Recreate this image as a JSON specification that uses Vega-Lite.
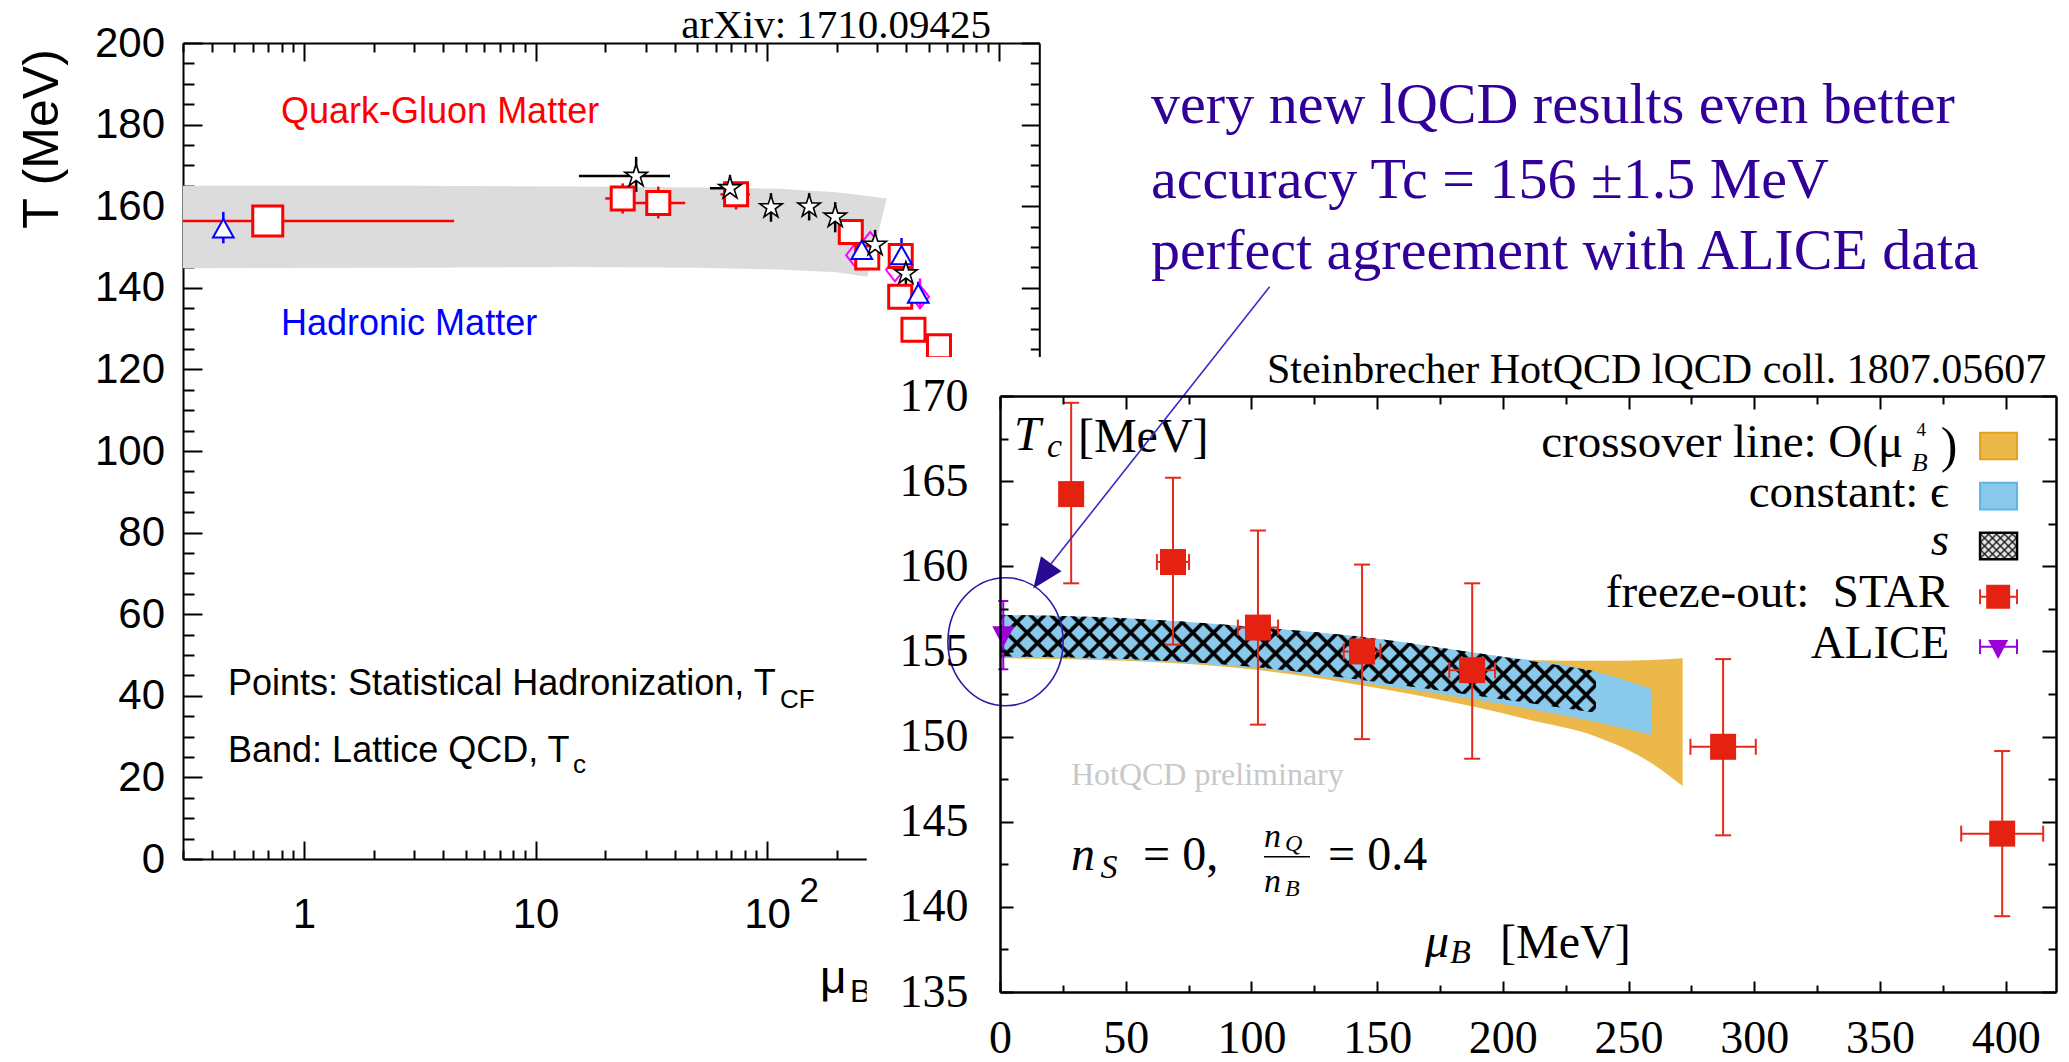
{
"$schema": "https://vega.github.io/schema/vega-lite/v6.json",
"width": 2069, "height": 1062,
"autosize": {"type": "none"},
"padding": 0,
"background": "#ffffff",
"config": {"view": {"stroke": null}, "axis": {"grid": false, "labelColor": "#000000", "tickColor": "#000000", "domainColor": "#000000"}},
"datasets": {
"left_band": [
{"mu":0.3,"lo":144.8,"hi":165.0},{"mu":3,"lo":144.9,"hi":165.0},{"mu":15,"lo":145.1,"hi":164.8},{"mu":50,"lo":144.9,"hi":164.6},{"mu":113,"lo":144.5,"hi":164.3},{"mu":200,"lo":143.8,"hi":163.4},{"mu":271,"lo":142.7,"hi":162.5},{"mu":329,"lo":161.9,"hi":161.9}
],
"left_pts": [
{"s":"sq","mu":0.697,"T":156.4,"mulo":0.3,"muhi":4.45},
{"s":"sq","mu":23.8,"T":161.9,"mulo":20.0,"muhi":26.9,"Tlo":158.2,"Thi":165.6},
{"s":"sq","mu":33.9,"T":160.8,"mulo":24.8,"muhi":44.3,"Tlo":157.0,"Thi":164.8},
{"s":"sq","mu":73.5,"T":162.9,"mulo":62.9,"muhi":84.3,"Tlo":159.2,"Thi":166.0},
{"s":"sq","mu":230,"T":153.7,"Tlo":151.5,"Thi":155.6},
{"s":"sq","mu":271,"T":147.4,"Tlo":145.6,"Thi":149.4},
{"s":"sq","mu":378,"T":147.8},
{"s":"sq","mu":376,"T":137.8,"Tlo":135.3,"Thi":140.0},
{"s":"sq","mu":429,"T":129.7},
{"s":"sq","mu":553,"T":125.7},
{"s":"st","mu":27.2,"T":167.4,"mulo":15.4,"muhi":38.1,"Tlo":163.5,"Thi":172.1},
{"s":"st","mu":69.2,"T":164.4,"mulo":56.7,"muhi":81.2,"Tlo":160.8,"Thi":167.6},
{"s":"st","mu":104,"T":159.7,"Tlo":156.2,"Thi":163.2},
{"s":"st","mu":152,"T":159.9,"Tlo":156.5,"Thi":163.2},
{"s":"st","mu":197,"T":157.4,"Tlo":153.6,"Thi":161.0},
{"s":"st","mu":293,"T":150.5,"Tlo":147.2,"Thi":154.2},
{"s":"st","mu":398,"T":143.5,"Tlo":140.5,"Thi":147.0},
{"s":"tr","mu":0.448,"T":154.6,"Tlo":150.9,"Thi":158.6},
{"s":"tr","mu":256.6,"T":149.3,"Tlo":146.8,"Thi":154.2},
{"s":"tr","mu":381,"T":148.0,"Tlo":145.2,"Thi":152.2},
{"s":"tr","mu":450,"T":138.6,"Tlo":136.2,"Thi":141.5},
{"s":"di","mu":240,"T":148.0},
{"s":"di","mu":279,"T":150.9},
{"s":"di","mu":357,"T":144.4},
{"s":"di","mu":458,"T":137.8,"Tlo":134.9,"Thi":142.3}
],
"orange": [
{"mu":0,"lo":154.6,"hi":157.1},{"mu":50,"lo":154.45,"hi":156.9},{"mu":100,"lo":153.95,"hi":156.4},{"mu":150,"lo":152.85,"hi":155.7},{"mu":190,"lo":151.7,"hi":154.9},{"mu":210,"lo":151.0,"hi":154.5},{"mu":237,"lo":150.0,"hi":154.45},{"mu":259,"lo":148.45,"hi":154.5},{"mu":271.5,"lo":147.1,"hi":154.6}
],
"blue": [
{"mu":0,"lo":154.65,"hi":157.15},{"mu":50,"lo":154.5,"hi":156.95},{"mu":100,"lo":154.05,"hi":156.45},{"mu":150,"lo":153.05,"hi":155.75},{"mu":190,"lo":152.15,"hi":154.9},{"mu":237,"lo":150.85,"hi":153.8},{"mu":259,"lo":150.1,"hi":152.8}
],
"hatch": [
{"mu":0,"lo":154.7,"hi":157.15},{"mu":50,"lo":154.55,"hi":156.95},{"mu":100,"lo":154.1,"hi":156.45},{"mu":150,"lo":153.2,"hi":155.75},{"mu":190,"lo":152.4,"hi":154.9},{"mu":237,"lo":151.4,"hi":153.85}
],
"fo": [
{"exp":"ALICE","mu":1.3,"T":155.9,"Tlo":153.95,"Thi":157.96},
{"exp":"STAR","mu":28.3,"T":164.24,"Tlo":159.0,"Thi":169.6,"mulo":24.0,"muhi":32.6},
{"exp":"STAR","mu":68.8,"T":160.25,"Tlo":155.4,"Thi":165.2,"mulo":62.4,"muhi":75.2},
{"exp":"STAR","mu":102.6,"T":156.4,"Tlo":150.7,"Thi":162.1,"mulo":94.6,"muhi":110.6},
{"exp":"STAR","mu":144.0,"T":155.0,"Tlo":149.85,"Thi":160.1,"mulo":136.7,"muhi":151.3},
{"exp":"STAR","mu":187.8,"T":153.9,"Tlo":148.7,"Thi":159.0,"mulo":178.7,"muhi":196.9},
{"exp":"STAR","mu":287.6,"T":149.4,"Tlo":144.2,"Thi":154.55,"mulo":274.6,"muhi":300.6},
{"exp":"STAR","mu":398.6,"T":144.3,"Tlo":139.45,"Thi":149.15,"mulo":382.3,"muhi":414.9}
],
"sbox": [{"x1":389.8,"x2":404.5,"y1":160.41,"y2":161.97}]
},
"resolve": {"scale": {"x": "independent", "y": "independent", "color": "independent", "fill": "independent", "stroke": "independent"}},
"layer": [
{"data":{"name":"left_band"},"mark":{"type":"area","color":"#dcdcdc","opacity":1},
 "encoding":{
  "x":{"field":"mu","type":"quantitative","scale":{"type":"log","domain":[0.3,1500],"range":[183,1039.3],"nice":false},
   "axis":{"orient":"bottom","offset":-203,"values":[0.3,0.4,0.5,0.6,0.7,0.8,0.9,1,2,3,4,5,6,7,8,9,10,20,30,40,50,60,70,80,90,100,200,300,400,500,600,700,800,900,1000],
    "labelExpr":"datum.value == 1 ? '1' : (datum.value == 10 || datum.value == 100) ? '10' : ''","labelOverlap":false,"labelBound":false,"labelFlush":false,
    "tickSize":{"condition":{"test":"datum.value == 1 || datum.value == 10 || datum.value == 100 || datum.value == 1000","value":-18},"value":-9},
    "tickWidth":2,"domainWidth":2,"labelFont":"Liberation Sans","labelFontSize":42,"labelPadding":53,"labelAngle":0,"title":null,"zindex":0}},
  "y":{"field":"lo","type":"quantitative","scale":{"type":"linear","domain":[0,200],"range":[859,43],"nice":false,"zero":false},
   "axis":{"orient":"left","offset":-183,"values":[0,5,10,15,20,25,30,35,40,45,50,55,60,65,70,75,80,85,90,95,100,105,110,115,120,125,130,135,140,145,150,155,160,165,170,175,180,185,190,195,200],
    "labelExpr":"datum.value % 20 == 0 ? format(datum.value, 'd') : ''","labelOverlap":false,"labelBound":false,"labelFlush":false,
    "tickSize":{"condition":{"test":"datum.value % 20 == 0","value":-19},"value":-11},
    "tickWidth":2,"domainWidth":2,"labelFont":"Liberation Sans","labelFontSize":42,"labelPadding":37.5,
    "title":"T (MeV)","titleX":-141,"titleY":138.5,"titleAngle":270,"titleAlign":"center","titleBaseline":"middle","titleFont":"Liberation Sans","titleFontSize":50,"titleFontWeight":"normal","titleColor":"#000000","zindex":0}},
  "y2":{"field":"hi"}}},
{"data":{"name":"left_pts"},"transform":[{"filter":"isValid(datum.mulo)"}],"mark":{"type":"rule","strokeWidth":2.5,"opacity":1},
 "encoding":{"x":{"field":"mulo","type":"quantitative","scale":{"type":"log","domain":[0.3,1500],"range":[183,1039.3],"nice":false},"axis":null},"x2":{"field":"muhi"},
  "y":{"field":"T","type":"quantitative","scale":{"type":"linear","domain":[0,200],"range":[859,43],"nice":false,"zero":false},"axis":null},
  "color":{"field":"s","type":"nominal","scale":{"domain":["sq","st","tr","di"],"range":["#ff0000","#000000","#0000ff","#ff00ff"]},"legend":null}}},
{"data":{"name":"left_pts"},"transform":[{"filter":"isValid(datum.Tlo)"}],"mark":{"type":"rule","strokeWidth":2.5,"opacity":1},
 "encoding":{"x":{"field":"mu","type":"quantitative","scale":{"type":"log","domain":[0.3,1500],"range":[183,1039.3],"nice":false},"axis":null},
  "y":{"field":"Tlo","type":"quantitative","scale":{"type":"linear","domain":[0,200],"range":[859,43],"nice":false,"zero":false},"axis":null},"y2":{"field":"Thi"},
  "color":{"field":"s","type":"nominal","scale":{"domain":["sq","st","tr","di"],"range":["#ff0000","#000000","#0000ff","#ff00ff"]},"legend":null}}},
{"data":{"name":"left_pts"},"transform":[{"filter":"datum.s == 'di'"}],"mark":{"type":"point","shape":"M0,-1L0.78,0L0,1L-0.78,0Z","size":529,"filled":false,"color":"#ff00ff","strokeWidth":2,"opacity":1},
 "encoding":{"x":{"field":"mu","type":"quantitative","scale":{"type":"log","domain":[0.3,1500],"range":[183,1039.3],"nice":false},"axis":null},
  "y":{"field":"T","type":"quantitative","scale":{"type":"linear","domain":[0,200],"range":[859,43],"nice":false,"zero":false},"axis":null}}},
{"data":{"name":"left_pts"},"transform":[{"filter":"datum.s == 'sq' && datum.mu > 1"}],"mark":{"type":"point","shape":"square","size":529,"filled":true,"fill":"#ffffff","stroke":"#ff0000","strokeWidth":3,"opacity":1},
 "encoding":{"x":{"field":"mu","type":"quantitative","scale":{"type":"log","domain":[0.3,1500],"range":[183,1039.3],"nice":false},"axis":null},
  "y":{"field":"T","type":"quantitative","scale":{"type":"linear","domain":[0,200],"range":[859,43],"nice":false,"zero":false},"axis":null}}},
{"data":{"name":"left_pts"},"transform":[{"filter":"datum.s == 'sq' && datum.mu < 1"}],"mark":{"type":"point","shape":"square","size":900,"filled":true,"fill":"#ffffff","stroke":"#ff0000","strokeWidth":3,"opacity":1},
 "encoding":{"x":{"field":"mu","type":"quantitative","scale":{"type":"log","domain":[0.3,1500],"range":[183,1039.3],"nice":false},"axis":null},
  "y":{"field":"T","type":"quantitative","scale":{"type":"linear","domain":[0,200],"range":[859,43],"nice":false,"zero":false},"axis":null}}},
{"data":{"name":"left_pts"},"transform":[{"filter":"datum.s == 'tr'"}],"mark":{"type":"point","shape":"M0,-0.8L0.9,0.8L-0.9,0.8Z","size":529,"filled":true,"fill":"#ffffff","stroke":"#0000ff","strokeWidth":2,"opacity":1},
 "encoding":{"x":{"field":"mu","type":"quantitative","scale":{"type":"log","domain":[0.3,1500],"range":[183,1039.3],"nice":false},"axis":null},
  "y":{"field":"T","type":"quantitative","scale":{"type":"linear","domain":[0,200],"range":[859,43],"nice":false,"zero":false},"axis":null}}},
{"data":{"name":"left_pts"},"transform":[{"filter":"datum.s == 'st'"}],"mark":{"type":"point","shape":"M0,-1L0.2245,-0.309L0.951,-0.309L0.363,0.118L0.588,0.809L0,0.382L-0.588,0.809L-0.363,0.118L-0.951,-0.309L-0.2245,-0.309Z","size":560,"filled":true,"fill":"#ffffff","stroke":"#000000","strokeWidth":1.6,"opacity":1},
 "encoding":{"x":{"field":"mu","type":"quantitative","scale":{"type":"log","domain":[0.3,1500],"range":[183,1039.3],"nice":false},"axis":null},
  "y":{"field":"T","type":"quantitative","scale":{"type":"linear","domain":[0,200],"range":[859,43],"nice":false,"zero":false},"axis":null}}},
{"data":{"values":[{"label":"arXiv: 1710.09425","mu":928.2,"T":201.15}]},"mark":{"type":"text","font":"Liberation Serif","fontSize":41,"color":"#000000","align":"right","baseline":"alphabetic"},
 "encoding":{"x":{"field":"mu","type":"quantitative","scale":{"type":"log","domain":[0.3,1500],"range":[183,1039.3],"nice":false},"axis":null},
  "y":{"field":"T","type":"quantitative","scale":{"type":"linear","domain":[0,200],"range":[859,43],"nice":false,"zero":false},"axis":null},"text":{"field":"label"}}},
{"data":{"values":[{"label":"Quark-Gluon Matter","mu":0.7955,"T":180.3}]},"mark":{"type":"text","font":"Liberation Sans","fontSize":36,"color":"#ff0000","align":"left","baseline":"alphabetic"},
 "encoding":{"x":{"field":"mu","type":"quantitative","scale":{"type":"log","domain":[0.3,1500],"range":[183,1039.3],"nice":false},"axis":null},
  "y":{"field":"T","type":"quantitative","scale":{"type":"linear","domain":[0,200],"range":[859,43],"nice":false,"zero":false},"axis":null},"text":{"field":"label"}}},
{"data":{"values":[{"label":"Hadronic Matter","mu":0.7955,"T":128.4}]},"mark":{"type":"text","font":"Liberation Sans","fontSize":36,"color":"#0000ff","align":"left","baseline":"alphabetic"},
 "encoding":{"x":{"field":"mu","type":"quantitative","scale":{"type":"log","domain":[0.3,1500],"range":[183,1039.3],"nice":false},"axis":null},
  "y":{"field":"T","type":"quantitative","scale":{"type":"linear","domain":[0,200],"range":[859,43],"nice":false,"zero":false},"axis":null},"text":{"field":"label"}}},
{"data":{"values":[{"label":"Points: Statistical Hadronization, T","mu":0.4695,"T":40.2},{"label":"Band: Lattice QCD, T","mu":0.4695,"T":23.85}]},"mark":{"type":"text","font":"Liberation Sans","fontSize":36,"color":"#000000","align":"left","baseline":"alphabetic"},
 "encoding":{"x":{"field":"mu","type":"quantitative","scale":{"type":"log","domain":[0.3,1500],"range":[183,1039.3],"nice":false},"axis":null},
  "y":{"field":"T","type":"quantitative","scale":{"type":"linear","domain":[0,200],"range":[859,43],"nice":false,"zero":false},"axis":null},"text":{"field":"label"}}},
{"data":{"values":[{"label":"CF","mu":113.8,"T":37.0},{"label":"c","mu":14.5,"T":21.0}]},"mark":{"type":"text","font":"Liberation Sans","fontSize":26,"color":"#000000","align":"left","baseline":"alphabetic"},
 "encoding":{"x":{"field":"mu","type":"quantitative","scale":{"type":"log","domain":[0.3,1500],"range":[183,1039.3],"nice":false},"axis":null},
  "y":{"field":"T","type":"quantitative","scale":{"type":"linear","domain":[0,200],"range":[859,43],"nice":false,"zero":false},"axis":null},"text":{"field":"label"}}},
{"data":{"values":[{"label":"2","mu":138.1,"T":-10.46}]},"mark":{"type":"text","font":"Liberation Sans","fontSize":35,"color":"#000000","align":"left","baseline":"alphabetic"},
 "encoding":{"x":{"field":"mu","type":"quantitative","scale":{"type":"log","domain":[0.3,1500],"range":[183,1039.3],"nice":false},"axis":null},
  "y":{"field":"T","type":"quantitative","scale":{"type":"linear","domain":[0,200],"range":[859,43],"nice":false,"zero":false},"axis":null},"text":{"field":"label"}}},
{"data":{"values":[{"label":"μ","mu":169.4,"T":-32.84}]},"mark":{"type":"text","font":"Liberation Sans","fontSize":46,"color":"#000000","align":"left","baseline":"alphabetic"},
 "encoding":{"x":{"field":"mu","type":"quantitative","scale":{"type":"log","domain":[0.3,1500],"range":[183,1039.3],"nice":false},"axis":null},
  "y":{"field":"T","type":"quantitative","scale":{"type":"linear","domain":[0,200],"range":[859,43],"nice":false,"zero":false},"axis":null},"text":{"field":"label"}}},
{"data":{"values":[{"label":"B","mu":228.3,"T":-35.05}]},"mark":{"type":"text","font":"Liberation Sans","fontSize":32,"color":"#000000","align":"left","baseline":"alphabetic"},
 "encoding":{"x":{"field":"mu","type":"quantitative","scale":{"type":"log","domain":[0.3,1500],"range":[183,1039.3],"nice":false},"axis":null},
  "y":{"field":"T","type":"quantitative","scale":{"type":"linear","domain":[0,200],"range":[859,43],"nice":false,"zero":false},"axis":null},"text":{"field":"label"}}},
{"data":{"name":"left_band"},"mark":{"type":"point","opacity":0},
 "encoding":{
  "x":{"field":"mu","type":"quantitative","scale":{"type":"log","domain":[0.3,1500],"range":[183,1039.3],"nice":false},
   "axis":{"orient":"top","offset":-43,"values":[0.3,0.4,0.5,0.6,0.7,0.8,0.9,1,2,3,4,5,6,7,8,9,10,20,30,40,50,60,70,80,90,100,200,300,400,500,600,700,800,900,1000],"labels":false,
    "tickSize":{"condition":{"test":"datum.value == 1 || datum.value == 10 || datum.value == 100 || datum.value == 1000","value":-18},"value":-9},"tickWidth":2,"domainWidth":2,"title":null,"zindex":0}},
  "y":{"field":"lo","type":"quantitative","scale":{"type":"linear","domain":[0,200],"range":[859,43],"nice":false,"zero":false},
   "axis":{"orient":"right","offset":-1029.7,"values":[0,5,10,15,20,25,30,35,40,45,50,55,60,65,70,75,80,85,90,95,100,105,110,115,120,125,130,135,140,145,150,155,160,165,170,175,180,185,190,195,200],"labels":false,
    "tickSize":{"condition":{"test":"datum.value % 20 == 0","value":-18},"value":-9},"tickWidth":2,"domainWidth":2,"title":null,"zindex":0}}}},
{"data":{"values":[{}]},"mark":{"type":"rect","color":"#ffffff","opacity":1},
 "encoding":{"x":{"datum":-53,"type":"quantitative","scale":{"domain":[0,420],"range":[1000,2056],"nice":false,"zero":false},"axis":null},"x2":{"datum":430},
  "y":{"datum":130,"type":"quantitative","scale":{"domain":[135,170],"range":[992,396],"nice":false,"zero":false},"axis":null},"y2":{"datum":172.29}}},
{"data":{"name":"orange"},"mark":{"type":"area","color":"#ecb84a","opacity":1,"interpolate":"monotone"},
 "encoding":{
  "x":{"field":"mu","type":"quantitative","scale":{"domain":[0,420],"range":[1000,2056],"nice":false,"zero":false},
   "axis":{"orient":"bottom","offset":-70,"values":[0,25,50,75,100,125,150,175,200,225,250,275,300,325,350,375,400],
    "labelExpr":"datum.value % 50 == 0 ? format(datum.value, 'd') : ''","labelOverlap":false,"labelBound":false,"labelFlush":false,
    "tickSize":{"condition":{"test":"datum.value % 50 == 0","value":-11},"value":-7},"tickWidth":2,"domainWidth":2.5,
    "labelFont":"Liberation Serif","labelFontSize":46,"labelPadding":35.5,"labelAngle":0,"title":null,"zindex":1}},
  "y":{"field":"lo","type":"quantitative","scale":{"domain":[135,170],"range":[992,396],"nice":false,"zero":false},
   "axis":{"orient":"left","offset":-1000,"values":[135,137.5,140,142.5,145,147.5,150,152.5,155,157.5,160,162.5,165,167.5,170],
    "labelExpr":"datum.value % 5 == 0 ? format(datum.value, 'd') : ''","labelOverlap":false,"labelBound":false,"labelFlush":false,
    "tickSize":{"condition":{"test":"datum.value % 5 == 0","value":-13},"value":-8},"tickWidth":2,"domainWidth":2.5,
    "labelFont":"Liberation Serif","labelFontSize":46,"labelPadding":45,"title":null,"zindex":1}},
  "y2":{"field":"hi"}}},
{"data":{"name":"blue"},"mark":{"type":"area","color":"#88c9ec","opacity":1,"interpolate":"monotone"},
 "encoding":{"x":{"field":"mu","type":"quantitative","scale":{"domain":[0,420],"range":[1000,2056],"nice":false,"zero":false},"axis":null},
  "y":{"field":"lo","type":"quantitative","scale":{"domain":[135,170],"range":[992,396],"nice":false,"zero":false},"axis":null},"y2":{"field":"hi"}}},
{"data":{"name":"hatch"},"mark":{"type":"area","opacity":1,"interpolate":"monotone","color":{"gradient":"linear","x1":0,"y1":1,"x2":1.13369,"y2":0.81372,"stops":[
{"offset":0,"color":"rgba(0,0,0,0)"},{"offset":0.003,"color":"#000000"},{"offset":0.0075,"color":"#000000"},{"offset":0.0105,"color":"rgba(0,0,0,0)"},
{"offset":0.02984,"color":"rgba(0,0,0,0)"},{"offset":0.03284,"color":"#000000"},{"offset":0.03734,"color":"#000000"},{"offset":0.04034,"color":"rgba(0,0,0,0)"},
{"offset":0.05968,"color":"rgba(0,0,0,0)"},{"offset":0.06268,"color":"#000000"},{"offset":0.06718,"color":"#000000"},{"offset":0.07018,"color":"rgba(0,0,0,0)"},
{"offset":0.08952,"color":"rgba(0,0,0,0)"},{"offset":0.09252,"color":"#000000"},{"offset":0.09702,"color":"#000000"},{"offset":0.10002,"color":"rgba(0,0,0,0)"},
{"offset":0.11936,"color":"rgba(0,0,0,0)"},{"offset":0.12236,"color":"#000000"},{"offset":0.12686,"color":"#000000"},{"offset":0.12986,"color":"rgba(0,0,0,0)"},
{"offset":0.1492,"color":"rgba(0,0,0,0)"},{"offset":0.1522,"color":"#000000"},{"offset":0.1567,"color":"#000000"},{"offset":0.1597,"color":"rgba(0,0,0,0)"},
{"offset":0.17904,"color":"rgba(0,0,0,0)"},{"offset":0.18204,"color":"#000000"},{"offset":0.18654,"color":"#000000"},{"offset":0.18954,"color":"rgba(0,0,0,0)"},
{"offset":0.20888,"color":"rgba(0,0,0,0)"},{"offset":0.21188,"color":"#000000"},{"offset":0.21638,"color":"#000000"},{"offset":0.21938,"color":"rgba(0,0,0,0)"},
{"offset":0.23872,"color":"rgba(0,0,0,0)"},{"offset":0.24172,"color":"#000000"},{"offset":0.24622,"color":"#000000"},{"offset":0.24922,"color":"rgba(0,0,0,0)"},
{"offset":0.26856,"color":"rgba(0,0,0,0)"},{"offset":0.27156,"color":"#000000"},{"offset":0.27606,"color":"#000000"},{"offset":0.27906,"color":"rgba(0,0,0,0)"},
{"offset":0.2984,"color":"rgba(0,0,0,0)"},{"offset":0.3014,"color":"#000000"},{"offset":0.3059,"color":"#000000"},{"offset":0.3089,"color":"rgba(0,0,0,0)"},
{"offset":0.32824,"color":"rgba(0,0,0,0)"},{"offset":0.33124,"color":"#000000"},{"offset":0.33574,"color":"#000000"},{"offset":0.33874,"color":"rgba(0,0,0,0)"},
{"offset":0.35808,"color":"rgba(0,0,0,0)"},{"offset":0.36108,"color":"#000000"},{"offset":0.36558,"color":"#000000"},{"offset":0.36858,"color":"rgba(0,0,0,0)"},
{"offset":0.38792,"color":"rgba(0,0,0,0)"},{"offset":0.39092,"color":"#000000"},{"offset":0.39542,"color":"#000000"},{"offset":0.39842,"color":"rgba(0,0,0,0)"},
{"offset":0.41776,"color":"rgba(0,0,0,0)"},{"offset":0.42076,"color":"#000000"},{"offset":0.42526,"color":"#000000"},{"offset":0.42826,"color":"rgba(0,0,0,0)"},
{"offset":0.4476,"color":"rgba(0,0,0,0)"},{"offset":0.4506,"color":"#000000"},{"offset":0.4551,"color":"#000000"},{"offset":0.4581,"color":"rgba(0,0,0,0)"},
{"offset":0.47744,"color":"rgba(0,0,0,0)"},{"offset":0.48044,"color":"#000000"},{"offset":0.48494,"color":"#000000"},{"offset":0.48794,"color":"rgba(0,0,0,0)"},
{"offset":0.50728,"color":"rgba(0,0,0,0)"},{"offset":0.51028,"color":"#000000"},{"offset":0.51478,"color":"#000000"},{"offset":0.51778,"color":"rgba(0,0,0,0)"},
{"offset":0.53712,"color":"rgba(0,0,0,0)"},{"offset":0.54012,"color":"#000000"},{"offset":0.54462,"color":"#000000"},{"offset":0.54762,"color":"rgba(0,0,0,0)"},
{"offset":0.56696,"color":"rgba(0,0,0,0)"},{"offset":0.56996,"color":"#000000"},{"offset":0.57446,"color":"#000000"},{"offset":0.57746,"color":"rgba(0,0,0,0)"},
{"offset":0.5968,"color":"rgba(0,0,0,0)"},{"offset":0.5998,"color":"#000000"},{"offset":0.6043,"color":"#000000"},{"offset":0.6073,"color":"rgba(0,0,0,0)"},
{"offset":0.62664,"color":"rgba(0,0,0,0)"},{"offset":0.62964,"color":"#000000"},{"offset":0.63414,"color":"#000000"},{"offset":0.63714,"color":"rgba(0,0,0,0)"},
{"offset":0.65648,"color":"rgba(0,0,0,0)"},{"offset":0.65948,"color":"#000000"},{"offset":0.66398,"color":"#000000"},{"offset":0.66698,"color":"rgba(0,0,0,0)"},
{"offset":0.68632,"color":"rgba(0,0,0,0)"},{"offset":0.68932,"color":"#000000"},{"offset":0.69382,"color":"#000000"},{"offset":0.69682,"color":"rgba(0,0,0,0)"},
{"offset":0.71616,"color":"rgba(0,0,0,0)"},{"offset":0.71916,"color":"#000000"},{"offset":0.72366,"color":"#000000"},{"offset":0.72666,"color":"rgba(0,0,0,0)"},
{"offset":0.746,"color":"rgba(0,0,0,0)"},{"offset":0.749,"color":"#000000"},{"offset":0.7535,"color":"#000000"},{"offset":0.7565,"color":"rgba(0,0,0,0)"},
{"offset":0.77584,"color":"rgba(0,0,0,0)"},{"offset":0.77884,"color":"#000000"},{"offset":0.78334,"color":"#000000"},{"offset":0.78634,"color":"rgba(0,0,0,0)"},
{"offset":0.80568,"color":"rgba(0,0,0,0)"},{"offset":0.80868,"color":"#000000"},{"offset":0.81318,"color":"#000000"},{"offset":0.81618,"color":"rgba(0,0,0,0)"},
{"offset":0.83552,"color":"rgba(0,0,0,0)"},{"offset":0.83852,"color":"#000000"},{"offset":0.84302,"color":"#000000"},{"offset":0.84602,"color":"rgba(0,0,0,0)"},
{"offset":0.86536,"color":"rgba(0,0,0,0)"},{"offset":0.86836,"color":"#000000"},{"offset":0.87286,"color":"#000000"},{"offset":0.87586,"color":"rgba(0,0,0,0)"},
{"offset":0.8952,"color":"rgba(0,0,0,0)"},{"offset":0.8982,"color":"#000000"},{"offset":0.9027,"color":"#000000"},{"offset":0.9057,"color":"rgba(0,0,0,0)"},
{"offset":0.92504,"color":"rgba(0,0,0,0)"},{"offset":0.92804,"color":"#000000"},{"offset":0.93254,"color":"#000000"},{"offset":0.93554,"color":"rgba(0,0,0,0)"},
{"offset":0.95488,"color":"rgba(0,0,0,0)"},{"offset":0.95788,"color":"#000000"},{"offset":0.96238,"color":"#000000"},{"offset":0.96538,"color":"rgba(0,0,0,0)"},
{"offset":0.98472,"color":"rgba(0,0,0,0)"},{"offset":0.98772,"color":"#000000"},{"offset":0.99222,"color":"#000000"},{"offset":0.99522,"color":"rgba(0,0,0,0)"},
{"offset":1,"color":"rgba(0,0,0,0)"}]}},
 "encoding":{"x":{"field":"mu","type":"quantitative","scale":{"domain":[0,420],"range":[1000,2056],"nice":false,"zero":false},"axis":null},
  "y":{"field":"lo","type":"quantitative","scale":{"domain":[135,170],"range":[992,396],"nice":false,"zero":false},"axis":null},"y2":{"field":"hi"}}},
{"data":{"name":"hatch"},"mark":{"type":"area","opacity":1,"interpolate":"monotone","color":{"gradient":"linear","x1":0,"y1":0,"x2":1.13369,"y2":0.18628,"stops":[
{"offset":0,"color":"rgba(0,0,0,0)"},{"offset":0.003,"color":"#000000"},{"offset":0.0075,"color":"#000000"},{"offset":0.0105,"color":"rgba(0,0,0,0)"},
{"offset":0.02984,"color":"rgba(0,0,0,0)"},{"offset":0.03284,"color":"#000000"},{"offset":0.03734,"color":"#000000"},{"offset":0.04034,"color":"rgba(0,0,0,0)"},
{"offset":0.05968,"color":"rgba(0,0,0,0)"},{"offset":0.06268,"color":"#000000"},{"offset":0.06718,"color":"#000000"},{"offset":0.07018,"color":"rgba(0,0,0,0)"},
{"offset":0.08952,"color":"rgba(0,0,0,0)"},{"offset":0.09252,"color":"#000000"},{"offset":0.09702,"color":"#000000"},{"offset":0.10002,"color":"rgba(0,0,0,0)"},
{"offset":0.11936,"color":"rgba(0,0,0,0)"},{"offset":0.12236,"color":"#000000"},{"offset":0.12686,"color":"#000000"},{"offset":0.12986,"color":"rgba(0,0,0,0)"},
{"offset":0.1492,"color":"rgba(0,0,0,0)"},{"offset":0.1522,"color":"#000000"},{"offset":0.1567,"color":"#000000"},{"offset":0.1597,"color":"rgba(0,0,0,0)"},
{"offset":0.17904,"color":"rgba(0,0,0,0)"},{"offset":0.18204,"color":"#000000"},{"offset":0.18654,"color":"#000000"},{"offset":0.18954,"color":"rgba(0,0,0,0)"},
{"offset":0.20888,"color":"rgba(0,0,0,0)"},{"offset":0.21188,"color":"#000000"},{"offset":0.21638,"color":"#000000"},{"offset":0.21938,"color":"rgba(0,0,0,0)"},
{"offset":0.23872,"color":"rgba(0,0,0,0)"},{"offset":0.24172,"color":"#000000"},{"offset":0.24622,"color":"#000000"},{"offset":0.24922,"color":"rgba(0,0,0,0)"},
{"offset":0.26856,"color":"rgba(0,0,0,0)"},{"offset":0.27156,"color":"#000000"},{"offset":0.27606,"color":"#000000"},{"offset":0.27906,"color":"rgba(0,0,0,0)"},
{"offset":0.2984,"color":"rgba(0,0,0,0)"},{"offset":0.3014,"color":"#000000"},{"offset":0.3059,"color":"#000000"},{"offset":0.3089,"color":"rgba(0,0,0,0)"},
{"offset":0.32824,"color":"rgba(0,0,0,0)"},{"offset":0.33124,"color":"#000000"},{"offset":0.33574,"color":"#000000"},{"offset":0.33874,"color":"rgba(0,0,0,0)"},
{"offset":0.35808,"color":"rgba(0,0,0,0)"},{"offset":0.36108,"color":"#000000"},{"offset":0.36558,"color":"#000000"},{"offset":0.36858,"color":"rgba(0,0,0,0)"},
{"offset":0.38792,"color":"rgba(0,0,0,0)"},{"offset":0.39092,"color":"#000000"},{"offset":0.39542,"color":"#000000"},{"offset":0.39842,"color":"rgba(0,0,0,0)"},
{"offset":0.41776,"color":"rgba(0,0,0,0)"},{"offset":0.42076,"color":"#000000"},{"offset":0.42526,"color":"#000000"},{"offset":0.42826,"color":"rgba(0,0,0,0)"},
{"offset":0.4476,"color":"rgba(0,0,0,0)"},{"offset":0.4506,"color":"#000000"},{"offset":0.4551,"color":"#000000"},{"offset":0.4581,"color":"rgba(0,0,0,0)"},
{"offset":0.47744,"color":"rgba(0,0,0,0)"},{"offset":0.48044,"color":"#000000"},{"offset":0.48494,"color":"#000000"},{"offset":0.48794,"color":"rgba(0,0,0,0)"},
{"offset":0.50728,"color":"rgba(0,0,0,0)"},{"offset":0.51028,"color":"#000000"},{"offset":0.51478,"color":"#000000"},{"offset":0.51778,"color":"rgba(0,0,0,0)"},
{"offset":0.53712,"color":"rgba(0,0,0,0)"},{"offset":0.54012,"color":"#000000"},{"offset":0.54462,"color":"#000000"},{"offset":0.54762,"color":"rgba(0,0,0,0)"},
{"offset":0.56696,"color":"rgba(0,0,0,0)"},{"offset":0.56996,"color":"#000000"},{"offset":0.57446,"color":"#000000"},{"offset":0.57746,"color":"rgba(0,0,0,0)"},
{"offset":0.5968,"color":"rgba(0,0,0,0)"},{"offset":0.5998,"color":"#000000"},{"offset":0.6043,"color":"#000000"},{"offset":0.6073,"color":"rgba(0,0,0,0)"},
{"offset":0.62664,"color":"rgba(0,0,0,0)"},{"offset":0.62964,"color":"#000000"},{"offset":0.63414,"color":"#000000"},{"offset":0.63714,"color":"rgba(0,0,0,0)"},
{"offset":0.65648,"color":"rgba(0,0,0,0)"},{"offset":0.65948,"color":"#000000"},{"offset":0.66398,"color":"#000000"},{"offset":0.66698,"color":"rgba(0,0,0,0)"},
{"offset":0.68632,"color":"rgba(0,0,0,0)"},{"offset":0.68932,"color":"#000000"},{"offset":0.69382,"color":"#000000"},{"offset":0.69682,"color":"rgba(0,0,0,0)"},
{"offset":0.71616,"color":"rgba(0,0,0,0)"},{"offset":0.71916,"color":"#000000"},{"offset":0.72366,"color":"#000000"},{"offset":0.72666,"color":"rgba(0,0,0,0)"},
{"offset":0.746,"color":"rgba(0,0,0,0)"},{"offset":0.749,"color":"#000000"},{"offset":0.7535,"color":"#000000"},{"offset":0.7565,"color":"rgba(0,0,0,0)"},
{"offset":0.77584,"color":"rgba(0,0,0,0)"},{"offset":0.77884,"color":"#000000"},{"offset":0.78334,"color":"#000000"},{"offset":0.78634,"color":"rgba(0,0,0,0)"},
{"offset":0.80568,"color":"rgba(0,0,0,0)"},{"offset":0.80868,"color":"#000000"},{"offset":0.81318,"color":"#000000"},{"offset":0.81618,"color":"rgba(0,0,0,0)"},
{"offset":0.83552,"color":"rgba(0,0,0,0)"},{"offset":0.83852,"color":"#000000"},{"offset":0.84302,"color":"#000000"},{"offset":0.84602,"color":"rgba(0,0,0,0)"},
{"offset":0.86536,"color":"rgba(0,0,0,0)"},{"offset":0.86836,"color":"#000000"},{"offset":0.87286,"color":"#000000"},{"offset":0.87586,"color":"rgba(0,0,0,0)"},
{"offset":0.8952,"color":"rgba(0,0,0,0)"},{"offset":0.8982,"color":"#000000"},{"offset":0.9027,"color":"#000000"},{"offset":0.9057,"color":"rgba(0,0,0,0)"},
{"offset":0.92504,"color":"rgba(0,0,0,0)"},{"offset":0.92804,"color":"#000000"},{"offset":0.93254,"color":"#000000"},{"offset":0.93554,"color":"rgba(0,0,0,0)"},
{"offset":0.95488,"color":"rgba(0,0,0,0)"},{"offset":0.95788,"color":"#000000"},{"offset":0.96238,"color":"#000000"},{"offset":0.96538,"color":"rgba(0,0,0,0)"},
{"offset":0.98472,"color":"rgba(0,0,0,0)"},{"offset":0.98772,"color":"#000000"},{"offset":0.99222,"color":"#000000"},{"offset":0.99522,"color":"rgba(0,0,0,0)"},
{"offset":1,"color":"rgba(0,0,0,0)"}]}},
 "encoding":{"x":{"field":"mu","type":"quantitative","scale":{"domain":[0,420],"range":[1000,2056],"nice":false,"zero":false},"axis":null},
  "y":{"field":"lo","type":"quantitative","scale":{"domain":[135,170],"range":[992,396],"nice":false,"zero":false},"axis":null},"y2":{"field":"hi"}}},
{"data":{"name":"fo"},"mark":{"type":"rule","strokeWidth":2,"opacity":1},
 "encoding":{"x":{"field":"mu","type":"quantitative","scale":{"domain":[0,420],"range":[1000,2056],"nice":false,"zero":false},"axis":null},
  "y":{"field":"Tlo","type":"quantitative","scale":{"domain":[135,170],"range":[992,396],"nice":false,"zero":false},"axis":null},"y2":{"field":"Thi"},
  "color":{"field":"exp","type":"nominal","scale":{"domain":["STAR","ALICE"],"range":["#e52a1a","#9a00d8"]},"legend":null}}},
{"data":{"name":"fo"},"transform":[{"filter":"isValid(datum.mulo)"}],"mark":{"type":"rule","strokeWidth":2,"opacity":1},
 "encoding":{"x":{"field":"mulo","type":"quantitative","scale":{"domain":[0,420],"range":[1000,2056],"nice":false,"zero":false},"axis":null},"x2":{"field":"muhi"},
  "y":{"field":"T","type":"quantitative","scale":{"domain":[135,170],"range":[992,396],"nice":false,"zero":false},"axis":null},
  "color":{"field":"exp","type":"nominal","scale":{"domain":["STAR","ALICE"],"range":["#e52a1a","#9a00d8"]},"legend":null}}},
{"data":{"name":"fo"},"transform":[{"filter":"datum.exp == 'STAR'"},{"fold":["Tlo","Thi"],"as":["end","Tend"]}],"mark":{"type":"point","shape":"M-1,0L1,0","size":256,"filled":false,"color":"#e52a1a","strokeWidth":2,"opacity":1},
 "encoding":{"x":{"field":"mu","type":"quantitative","scale":{"domain":[0,420],"range":[1000,2056],"nice":false,"zero":false},"axis":null},
  "y":{"field":"Tend","type":"quantitative","scale":{"domain":[135,170],"range":[992,396],"nice":false,"zero":false},"axis":null}}},
{"data":{"name":"fo"},"transform":[{"filter":"isValid(datum.mulo)"},{"fold":["mulo","muhi"],"as":["end","muend"]}],"mark":{"type":"point","shape":"M0,-1L0,1","size":256,"filled":false,"color":"#e52a1a","strokeWidth":2,"opacity":1},
 "encoding":{"x":{"field":"muend","type":"quantitative","scale":{"domain":[0,420],"range":[1000,2056],"nice":false,"zero":false},"axis":null},
  "y":{"field":"T","type":"quantitative","scale":{"domain":[135,170],"range":[992,396],"nice":false,"zero":false},"axis":null}}},
{"data":{"name":"fo"},"transform":[{"filter":"datum.exp == 'ALICE'"},{"fold":["Tlo","Thi"],"as":["end","Tend"]}],"mark":{"type":"point","shape":"M-1,0L1,0","size":100,"filled":false,"color":"#9a00d8","strokeWidth":2,"opacity":1},
 "encoding":{"x":{"field":"mu","type":"quantitative","scale":{"domain":[0,420],"range":[1000,2056],"nice":false,"zero":false},"axis":null},
  "y":{"field":"Tend","type":"quantitative","scale":{"domain":[135,170],"range":[992,396],"nice":false,"zero":false},"axis":null}}},
{"data":{"name":"fo"},"transform":[{"filter":"datum.exp == 'STAR'"}],"mark":{"type":"point","shape":"square","size":676,"filled":true,"color":"#e52212","strokeWidth":0,"opacity":1},
 "encoding":{"x":{"field":"mu","type":"quantitative","scale":{"domain":[0,420],"range":[1000,2056],"nice":false,"zero":false},"axis":null},
  "y":{"field":"T","type":"quantitative","scale":{"domain":[135,170],"range":[992,396],"nice":false,"zero":false},"axis":null}}},
{"data":{"name":"fo"},"transform":[{"filter":"datum.exp == 'ALICE'"}],"mark":{"type":"point","shape":"M-1,-0.9L1,-0.9L0,1Z","size":484,"filled":true,"color":"#9a00d8","strokeWidth":0,"opacity":1},
 "encoding":{"x":{"field":"mu","type":"quantitative","scale":{"domain":[0,420],"range":[1000,2056],"nice":false,"zero":false},"axis":null},
  "y":{"field":"T","type":"quantitative","scale":{"domain":[135,170],"range":[992,396],"nice":false,"zero":false},"axis":null}}},
{"data":{"values":[{"item":"crossover","x1":389.8,"x2":404.5,"y1":166.28,"y2":167.84},{"item":"constant","x1":389.8,"x2":404.5,"y1":163.34,"y2":164.91}]},
 "mark":{"type":"rect","strokeWidth":2,"opacity":1},
 "encoding":{"x":{"field":"x1","type":"quantitative","scale":{"domain":[0,420],"range":[1000,2056],"nice":false,"zero":false},"axis":null},"x2":{"field":"x2"},
  "y":{"field":"y1","type":"quantitative","scale":{"domain":[135,170],"range":[992,396],"nice":false,"zero":false},"axis":null},"y2":{"field":"y2"},
  "fill":{"field":"item","type":"nominal","scale":{"domain":["crossover","constant"],"range":["#ecb84a","#88c9ec"]},"legend":null},
  "stroke":{"field":"item","type":"nominal","scale":{"domain":["crossover","constant"],"range":["#e3a21e","#5fb4e6"]},"legend":null}}},
{"data":{"name":"sbox"},"mark":{"type":"rect","color":"#e6e6e6","opacity":1},
 "encoding":{"x":{"field":"x1","type":"quantitative","scale":{"domain":[0,420],"range":[1000,2056],"nice":false,"zero":false},"axis":null},"x2":{"field":"x2"},
  "y":{"field":"y1","type":"quantitative","scale":{"domain":[135,170],"range":[992,396],"nice":false,"zero":false},"axis":null},"y2":{"field":"y2"}}},
{"data":{"name":"sbox"},"mark":{"type":"rect","opacity":1,"color":{"gradient":"linear","x1":0,"y1":1,"x2":1.1332,"y2":0.1853,"stops":[
{"offset":0,"color":"rgba(0,0,0,0)"},{"offset":0.03,"color":"#222222"},{"offset":0.06,"color":"rgba(0,0,0,0)"},
{"offset":0.125,"color":"rgba(0,0,0,0)"},{"offset":0.155,"color":"#222222"},{"offset":0.185,"color":"rgba(0,0,0,0)"},
{"offset":0.25,"color":"rgba(0,0,0,0)"},{"offset":0.28,"color":"#222222"},{"offset":0.31,"color":"rgba(0,0,0,0)"},
{"offset":0.375,"color":"rgba(0,0,0,0)"},{"offset":0.405,"color":"#222222"},{"offset":0.435,"color":"rgba(0,0,0,0)"},
{"offset":0.5,"color":"rgba(0,0,0,0)"},{"offset":0.53,"color":"#222222"},{"offset":0.56,"color":"rgba(0,0,0,0)"},
{"offset":0.625,"color":"rgba(0,0,0,0)"},{"offset":0.655,"color":"#222222"},{"offset":0.685,"color":"rgba(0,0,0,0)"},
{"offset":0.75,"color":"rgba(0,0,0,0)"},{"offset":0.78,"color":"#222222"},{"offset":0.81,"color":"rgba(0,0,0,0)"},
{"offset":0.875,"color":"rgba(0,0,0,0)"},{"offset":0.905,"color":"#222222"},{"offset":0.935,"color":"rgba(0,0,0,0)"},
{"offset":1,"color":"rgba(0,0,0,0)"}]}},
 "encoding":{"x":{"field":"x1","type":"quantitative","scale":{"domain":[0,420],"range":[1000,2056],"nice":false,"zero":false},"axis":null},"x2":{"field":"x2"},
  "y":{"field":"y1","type":"quantitative","scale":{"domain":[135,170],"range":[992,396],"nice":false,"zero":false},"axis":null},"y2":{"field":"y2"}}},
{"data":{"name":"sbox"},"mark":{"type":"rect","opacity":1,"color":{"gradient":"linear","x1":0,"y1":0,"x2":1.1332,"y2":0.8147,"stops":[
{"offset":0,"color":"rgba(0,0,0,0)"},{"offset":0.03,"color":"#222222"},{"offset":0.06,"color":"rgba(0,0,0,0)"},
{"offset":0.125,"color":"rgba(0,0,0,0)"},{"offset":0.155,"color":"#222222"},{"offset":0.185,"color":"rgba(0,0,0,0)"},
{"offset":0.25,"color":"rgba(0,0,0,0)"},{"offset":0.28,"color":"#222222"},{"offset":0.31,"color":"rgba(0,0,0,0)"},
{"offset":0.375,"color":"rgba(0,0,0,0)"},{"offset":0.405,"color":"#222222"},{"offset":0.435,"color":"rgba(0,0,0,0)"},
{"offset":0.5,"color":"rgba(0,0,0,0)"},{"offset":0.53,"color":"#222222"},{"offset":0.56,"color":"rgba(0,0,0,0)"},
{"offset":0.625,"color":"rgba(0,0,0,0)"},{"offset":0.655,"color":"#222222"},{"offset":0.685,"color":"rgba(0,0,0,0)"},
{"offset":0.75,"color":"rgba(0,0,0,0)"},{"offset":0.78,"color":"#222222"},{"offset":0.81,"color":"rgba(0,0,0,0)"},
{"offset":0.875,"color":"rgba(0,0,0,0)"},{"offset":0.905,"color":"#222222"},{"offset":0.935,"color":"rgba(0,0,0,0)"},
{"offset":1,"color":"rgba(0,0,0,0)"}]}},
 "encoding":{"x":{"field":"x1","type":"quantitative","scale":{"domain":[0,420],"range":[1000,2056],"nice":false,"zero":false},"axis":null},"x2":{"field":"x2"},
  "y":{"field":"y1","type":"quantitative","scale":{"domain":[135,170],"range":[992,396],"nice":false,"zero":false},"axis":null},"y2":{"field":"y2"}}},
{"data":{"name":"sbox"},"mark":{"type":"rect","fill":"rgba(0,0,0,0)","stroke":"#000000","strokeWidth":2.5,"opacity":1},
 "encoding":{"x":{"field":"x1","type":"quantitative","scale":{"domain":[0,420],"range":[1000,2056],"nice":false,"zero":false},"axis":null},"x2":{"field":"x2"},
  "y":{"field":"y1","type":"quantitative","scale":{"domain":[135,170],"range":[992,396],"nice":false,"zero":false},"axis":null},"y2":{"field":"y2"}}},
{"data":{"values":[{"exp":"STAR","mu":397,"T":158.21,"mulo":389.8,"muhi":404.5},{"exp":"ALICE","mu":397,"T":155.28,"mulo":389.8,"muhi":404.5}]},"mark":{"type":"rule","strokeWidth":2,"opacity":1},
 "encoding":{"x":{"field":"mulo","type":"quantitative","scale":{"domain":[0,420],"range":[1000,2056],"nice":false,"zero":false},"axis":null},"x2":{"field":"muhi"},
  "y":{"field":"T","type":"quantitative","scale":{"domain":[135,170],"range":[992,396],"nice":false,"zero":false},"axis":null},
  "color":{"field":"exp","type":"nominal","scale":{"domain":["STAR","ALICE"],"range":["#e52a1a","#9a00d8"]},"legend":null}}},
{"data":{"values":[{"exp":"STAR","mu":397,"T":158.21,"mulo":389.8,"muhi":404.5},{"exp":"ALICE","mu":397,"T":155.28,"mulo":389.8,"muhi":404.5}]},"transform":[{"fold":["mulo","muhi"],"as":["end","muend"]}],
 "mark":{"type":"point","shape":"M0,-1L0,1","size":220,"filled":false,"strokeWidth":2,"opacity":1},
 "encoding":{"x":{"field":"muend","type":"quantitative","scale":{"domain":[0,420],"range":[1000,2056],"nice":false,"zero":false},"axis":null},
  "y":{"field":"T","type":"quantitative","scale":{"domain":[135,170],"range":[992,396],"nice":false,"zero":false},"axis":null},
  "color":{"field":"exp","type":"nominal","scale":{"domain":["STAR","ALICE"],"range":["#e52a1a","#9a00d8"]},"legend":null}}},
{"data":{"values":[{"mu":397,"T":158.21}]},"mark":{"type":"point","shape":"square","size":576,"filled":true,"color":"#e52212","strokeWidth":0,"opacity":1},
 "encoding":{"x":{"field":"mu","type":"quantitative","scale":{"domain":[0,420],"range":[1000,2056],"nice":false,"zero":false},"axis":null},
  "y":{"field":"T","type":"quantitative","scale":{"domain":[135,170],"range":[992,396],"nice":false,"zero":false},"axis":null}}},
{"data":{"values":[{"mu":397,"T":155.14}]},"mark":{"type":"point","shape":"M-1,-0.9L1,-0.9L0,1Z","size":400,"filled":true,"color":"#9a00d8","strokeWidth":0,"opacity":1},
 "encoding":{"x":{"field":"mu","type":"quantitative","scale":{"domain":[0,420],"range":[1000,2056],"nice":false,"zero":false},"axis":null},
  "y":{"field":"T","type":"quantitative","scale":{"domain":[135,170],"range":[992,396],"nice":false,"zero":false},"axis":null}}},
{"data":{"values":[{"label":"crossover line: O(μ","mu":359.2,"T":166.43},{"label":"constant: ϵ","mu":377.5,"T":163.5},{"label":"freeze-out:\u00a0 STAR","mu":377.5,"T":157.62},{"label":"ALICE","mu":377.5,"T":154.6}]},
 "mark":{"type":"text","font":"Liberation Serif","fontSize":47,"color":"#000000","align":"right","baseline":"alphabetic"},
 "encoding":{"x":{"field":"mu","type":"quantitative","scale":{"domain":[0,420],"range":[1000,2056],"nice":false,"zero":false},"axis":null},
  "y":{"field":"T","type":"quantitative","scale":{"domain":[135,170],"range":[992,396],"nice":false,"zero":false},"axis":null},"text":{"field":"label"}}},
{"data":{"values":[{"label":"s","mu":377.5,"T":160.66}]},
 "mark":{"type":"text","font":"Liberation Serif","fontSize":47,"fontStyle":"italic","color":"#000000","align":"right","baseline":"alphabetic"},
 "encoding":{"x":{"field":"mu","type":"quantitative","scale":{"domain":[0,420],"range":[1000,2056],"nice":false,"zero":false},"axis":null},
  "y":{"field":"T","type":"quantitative","scale":{"domain":[135,170],"range":[992,396],"nice":false,"zero":false},"axis":null},"text":{"field":"label"}}},
{"data":{"values":[{"label":"4","mu":366.4,"T":167.68}]},
 "mark":{"type":"text","font":"Liberation Serif","fontSize":19,"color":"#000000","align":"center","baseline":"alphabetic"},
 "encoding":{"x":{"field":"mu","type":"quantitative","scale":{"domain":[0,420],"range":[1000,2056],"nice":false,"zero":false},"axis":null},
  "y":{"field":"T","type":"quantitative","scale":{"domain":[135,170],"range":[992,396],"nice":false,"zero":false},"axis":null},"text":{"field":"label"}}},
{"data":{"values":[{"label":"B","mu":365.8,"T":165.62}]},
 "mark":{"type":"text","font":"Liberation Serif","fontSize":26,"fontStyle":"italic","color":"#000000","align":"center","baseline":"alphabetic"},
 "encoding":{"x":{"field":"mu","type":"quantitative","scale":{"domain":[0,420],"range":[1000,2056],"nice":false,"zero":false},"axis":null},
  "y":{"field":"T","type":"quantitative","scale":{"domain":[135,170],"range":[992,396],"nice":false,"zero":false},"axis":null},"text":{"field":"label"}}},
{"data":{"values":[{"label":")","mu":374.2,"T":166.1}]},
 "mark":{"type":"text","font":"Liberation Serif","fontSize":50,"color":"#000000","align":"left","baseline":"alphabetic"},
 "encoding":{"x":{"field":"mu","type":"quantitative","scale":{"domain":[0,420],"range":[1000,2056],"nice":false,"zero":false},"axis":null},
  "y":{"field":"T","type":"quantitative","scale":{"domain":[135,170],"range":[992,396],"nice":false,"zero":false},"axis":null},"text":{"field":"label"}}},
{"data":{"values":[{"label":"Steinbrecher HotQCD lQCD coll. 1807.05607","mu":416.1,"T":170.74}]},
 "mark":{"type":"text","font":"Liberation Serif","fontSize":42,"color":"#000000","align":"right","baseline":"alphabetic"},
 "encoding":{"x":{"field":"mu","type":"quantitative","scale":{"domain":[0,420],"range":[1000,2056],"nice":false,"zero":false},"axis":null},
  "y":{"field":"T","type":"quantitative","scale":{"domain":[135,170],"range":[992,396],"nice":false,"zero":false},"axis":null},"text":{"field":"label"}}},
{"data":{"values":[{"label":"T","mu":5.6,"T":166.83},{"label":"μ","mu":169.05,"T":137.07},{"label":"n","mu":28.2,"T":142.16}]},
 "mark":{"type":"text","font":"Liberation Serif","fontSize":48,"fontStyle":"italic","color":"#000000","align":"left","baseline":"alphabetic"},
 "encoding":{"x":{"field":"mu","type":"quantitative","scale":{"domain":[0,420],"range":[1000,2056],"nice":false,"zero":false},"axis":null},
  "y":{"field":"T","type":"quantitative","scale":{"domain":[135,170],"range":[992,396],"nice":false,"zero":false},"axis":null},"text":{"field":"label"}}},
{"data":{"values":[{"label":"c","mu":18.7,"T":166.43},{"label":"B","mu":179.0,"T":136.68},{"label":"S","mu":40.0,"T":141.68},{"label":"n","mu":105,"T":143.53},{"label":"n","mu":105,"T":140.89}]},
 "mark":{"type":"text","font":"Liberation Serif","fontSize":34,"fontStyle":"italic","color":"#000000","align":"left","baseline":"alphabetic"},
 "encoding":{"x":{"field":"mu","type":"quantitative","scale":{"domain":[0,420],"range":[1000,2056],"nice":false,"zero":false},"axis":null},
  "y":{"field":"T","type":"quantitative","scale":{"domain":[135,170],"range":[992,396],"nice":false,"zero":false},"axis":null},"text":{"field":"label"}}},
{"data":{"values":[{"label":"Q","mu":113.4,"T":143.3},{"label":"B","mu":113.4,"T":140.65}]},
 "mark":{"type":"text","font":"Liberation Serif","fontSize":24,"fontStyle":"italic","color":"#000000","align":"left","baseline":"alphabetic"},
 "encoding":{"x":{"field":"mu","type":"quantitative","scale":{"domain":[0,420],"range":[1000,2056],"nice":false,"zero":false},"axis":null},
  "y":{"field":"T","type":"quantitative","scale":{"domain":[135,170],"range":[992,396],"nice":false,"zero":false},"axis":null},"text":{"field":"label"}}},
{"data":{"values":[{"label":"[MeV]","mu":31.0,"T":166.73},{"label":"[MeV]","mu":198.9,"T":136.98},{"label":"= 0,","mu":56.9,"T":142.16},{"label":"= 0.4","mu":130.5,"T":142.16}]},
 "mark":{"type":"text","font":"Liberation Serif","fontSize":48,"color":"#000000","align":"left","baseline":"alphabetic"},
 "encoding":{"x":{"field":"mu","type":"quantitative","scale":{"domain":[0,420],"range":[1000,2056],"nice":false,"zero":false},"axis":null},
  "y":{"field":"T","type":"quantitative","scale":{"domain":[135,170],"range":[992,396],"nice":false,"zero":false},"axis":null},"text":{"field":"label"}}},
{"data":{"values":[{"x1":105,"x2":123.3,"y":142.94}]},"mark":{"type":"rule","strokeWidth":1.5,"color":"#000000","opacity":1},
 "encoding":{"x":{"field":"x1","type":"quantitative","scale":{"domain":[0,420],"range":[1000,2056],"nice":false,"zero":false},"axis":null},"x2":{"field":"x2"},
  "y":{"field":"y","type":"quantitative","scale":{"domain":[135,170],"range":[992,396],"nice":false,"zero":false},"axis":null}}},
{"data":{"values":[{"label":"HotQCD preliminary","mu":28.2,"T":147.16}]},
 "mark":{"type":"text","font":"Liberation Serif","fontSize":32,"color":"#c8c8c8","align":"left","baseline":"alphabetic"},
 "encoding":{"x":{"field":"mu","type":"quantitative","scale":{"domain":[0,420],"range":[1000,2056],"nice":false,"zero":false},"axis":null},
  "y":{"field":"T","type":"quantitative","scale":{"domain":[135,170],"range":[992,396],"nice":false,"zero":false},"axis":null},"text":{"field":"label"}}},
{"data":{"values":[{"label":"very new lQCD results even better","mu":60.1,"T":186.03},{"label":"accuracy Tc = 156 ±1.5 MeV","mu":60.1,"T":181.62},{"label":"perfect agreement with ALICE data","mu":60.1,"T":177.44}]},
 "mark":{"type":"text","font":"Liberation Serif","fontSize":58,"color":"#300099","align":"left","baseline":"alphabetic"},
 "encoding":{"x":{"field":"mu","type":"quantitative","scale":{"domain":[0,420],"range":[1000,2056],"nice":false,"zero":false},"axis":null},
  "y":{"field":"T","type":"quantitative","scale":{"domain":[135,170],"range":[992,396],"nice":false,"zero":false},"axis":null},"text":{"field":"label"}}},
{"data":{"values":[{"x1":107.24,"y1":176.41,"x2":20.3,"y2":160.15}]},"mark":{"type":"rule","strokeWidth":1.6,"color":"#3a2bc8","opacity":1},
 "encoding":{"x":{"field":"x1","type":"quantitative","scale":{"domain":[0,420],"range":[1000,2056],"nice":false,"zero":false},"axis":null},"x2":{"field":"x2"},
  "y":{"field":"y1","type":"quantitative","scale":{"domain":[135,170],"range":[992,396],"nice":false,"zero":false},"axis":null},"y2":{"field":"y2"}}},
{"data":{"values":[{"mu":13.25,"T":158.7}]},"mark":{"type":"point","shape":"M0,0L0.416,1L-0.416,1Z","size":3721,"angle":216,"filled":true,"color":"#2a0a90","strokeWidth":0,"opacity":1},
 "encoding":{"x":{"field":"mu","type":"quantitative","scale":{"domain":[0,420],"range":[1000,2056],"nice":false,"zero":false},"axis":null},
  "y":{"field":"T","type":"quantitative","scale":{"domain":[135,170],"range":[992,396],"nice":false,"zero":false},"axis":null}}},
{"data":{"values":[{"mu":2.19,"T":155.57}]},"mark":{"type":"point","shape":"M-0.9,0A0.9,1,0,1,0,0.9,0A0.9,1,0,1,0,-0.9,0Z","size":16384,"filled":false,"color":"#2a1aa8","strokeWidth":1.6,"opacity":1},
 "encoding":{"x":{"field":"mu","type":"quantitative","scale":{"domain":[0,420],"range":[1000,2056],"nice":false,"zero":false},"axis":null},
  "y":{"field":"T","type":"quantitative","scale":{"domain":[135,170],"range":[992,396],"nice":false,"zero":false},"axis":null}}},
{"data":{"name":"orange"},"mark":{"type":"point","opacity":0},
 "encoding":{
  "x":{"field":"mu","type":"quantitative","scale":{"domain":[0,420],"range":[1000,2056],"nice":false,"zero":false},
   "axis":{"orient":"top","offset":-396,"values":[0,25,50,75,100,125,150,175,200,225,250,275,300,325,350,375,400],"labels":false,
    "tickSize":{"condition":{"test":"datum.value % 50 == 0","value":-13},"value":-8},"tickWidth":2,"domainWidth":2.5,"title":null,"zindex":1}},
  "y":{"field":"lo","type":"quantitative","scale":{"domain":[135,170],"range":[992,396],"nice":false,"zero":false},
   "axis":{"orient":"right","offset":-13,"values":[135,137.5,140,142.5,145,147.5,150,152.5,155,157.5,160,162.5,165,167.5,170],"labels":false,
    "tickSize":{"condition":{"test":"datum.value % 5 == 0","value":-14},"value":-8},"tickWidth":2,"domainWidth":2.5,"title":null,"zindex":1}}}}
]
}
